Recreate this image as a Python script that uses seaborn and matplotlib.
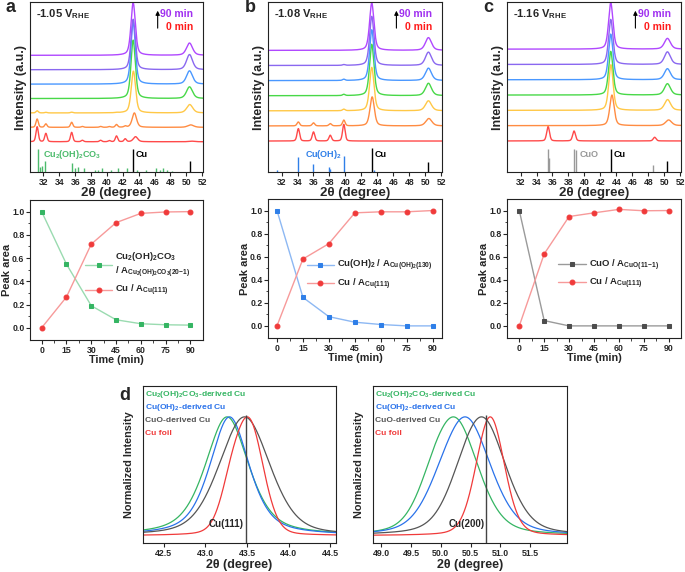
import numpy as np
import pandas as pd
import matplotlib
matplotlib.use("Agg")
import matplotlib.pyplot as plt
import seaborn as sns

###############################################################################
# style
###############################################################################
sns.set_theme(style="ticks")
plt.rcParams['font.family'] = ['Liberation Sans', 'DejaVu Sans']
plt.rcParams['font.weight'] = 'bold'
plt.rcParams['axes.labelweight'] = 'bold'
plt.rcParams['mathtext.fontset'] = 'custom'
plt.rcParams['mathtext.rm'] = 'Liberation Sans:bold'
plt.rcParams['mathtext.it'] = 'Liberation Sans:bold'
plt.rcParams['mathtext.bf'] = 'Liberation Sans:bold'
plt.rcParams['mathtext.default'] = 'rm'
plt.rcParams['axes.linewidth'] = 0.8
plt.rcParams['axes.edgecolor'] = '#222222'

###############################################################################
# data
###############################################################################
times = [0, 15, 30, 45, 60, 75, 90]
curve_colors = ['#FF4A4A', '#FF8C42', '#FFC847', '#48D848', '#4A98FF', '#8A68F0', '#B048FF']

# panel a  (Cu2(OH)2CO3 precursor, -1.05 V)
a_cu111_pos = [43.6, 43.45, 43.33, 43.3, 43.3, 43.3, 43.3]
a_cu111_h = [0.35, 1.0, 2.9, 4.05, 4.3, 3.5, 3.65]
a_cu200_h = [0.04, 0.17, 0.58, 0.81, 0.92, 1.05, 0.85]
a_phase_pos = [31.2, 32.3, 35.55, 36.9, 39.2, 40.3, 41.2, 42.3]
a_phase_h = [[1.04, 0.58, 0.65, 0.1, 0.1, 0.08, 0.4, 0.2],
             [0.58, 0.24, 0.35, 0.06, 0.06, 0.05, 0.19, 0.08],
             [0.15, 0.04, 0.05, 0.0, 0.0, 0.0, 0.02, 0.0],
             [0.0] * 8, [0.0] * 8, [0.0] * 8, [0.0] * 8]
a_ref_pos = [31.32, 31.57, 31.83, 32.2, 35.56, 35.98, 36.32, 37.07, 38.46, 38.92, 39.42,
             40.47, 41.39, 42.49, 43.83, 44.88, 46.14, 46.68, 47.02, 47.6, 48.15]
a_ref_top = [-0.51, -1.74, -1.69, -1.34, -1.46, -1.85, -1.74, -1.85, -1.97, -1.97, -1.85,
             -1.97, -1.85, -1.85, -1.97, -1.97, -1.85, -1.97, -1.85, -1.97, -2.0]
a_cu_ref_top = [-0.5, -1.34]

# panel b  (Cu(OH)2 precursor, -1.08 V)
b_cu111_pos = [43.3, 43.35, 43.3, 43.3, 43.3, 43.3, 43.3]
b_cu111_h = [0.0, 1.92, 2.87, 3.4, 3.36, 3.25, 3.13]
b_cu200_h = [0.0, 0.49, 0.66, 0.82, 0.82, 0.88, 0.84]
b_phase_pos = [34.1, 36.0, 38.1, 39.8]
b_phase_h = [[0.82, 0.6, 0.38, 1.1],
             [0.26, 0.2, 0.15, 0.38],
             [0.0, 0.0, 0.0, 0.1],
             [0.0, 0.0, 0.0, 0.08],
             [0.0, 0.0, 0.0, 0.08],
             [0.0, 0.0, 0.0, 0.05],
             [0.0, 0.0, 0.0, 0.0]]
b_ref_pos = [31.47, 34.05, 36.0, 38.0, 38.13, 39.88, 43.55]
b_ref_top = [-1.94, -1.06, -1.5, -1.72, -1.83, -1.01, -1.94]
b_cu_ref_top = [-0.46, -1.39]

# panel c  (CuO precursor, -1.16 V)
c_cu111_pos = [43.3, 43.45, 43.32, 43.3, 43.3, 43.3, 43.3]
c_cu111_h = [0.0, 2.0, 2.98, 2.85, 2.98, 2.94, 3.03]
c_cu200_h = [0.0, 0.37, 0.7, 0.74, 0.72, 0.82, 0.7]
c_phase_pos = [35.45, 38.7, 48.8]
c_phase_h = [[0.94, 0.65, 0.24]] + [[0.0, 0.0, 0.0]] * 6
c_ref_pos = [35.45, 35.58, 38.65, 38.9, 48.65]
c_ref_top = [-0.54, -1.13, -0.54, -0.6, -1.57]
c_cu_ref_top = [-0.54, -1.31]

cu_ref_pos = [43.3, 50.4]

# peak area vs time
time_min = [0, 15, 30, 45, 60, 75, 90]
a_precursor = [1.0, 0.548, 0.19, 0.069, 0.035, 0.026, 0.023]
a_cu = [0.0, 0.265, 0.72, 0.905, 0.985, 0.997, 1.0]
b_precursor = [1.0, 0.247, 0.08, 0.032, 0.012, 0.0, 0.0]
b_cu = [0.0, 0.58, 0.713, 0.98, 0.989, 0.989, 1.0]
c_precursor = [1.0, 0.046, 0.0, 0.0, 0.0, 0.0, 0.0]
c_cu = [0.0, 0.624, 0.948, 0.98, 1.01, 0.998, 1.0]

# panel d: normalized Cu(111) / Cu(200) profiles
d_labels = ['Cu$_2$(OH)$_2$CO$_3$-derived Cu', 'Cu(OH)$_2$-derived Cu', 'CuO-derived Cu', 'Cu foil']
d_colors = ['#35B563', '#2A72EA', '#555555', '#F03A3A']
d111_pos = [43.26, 43.29, 43.47, 43.53]
d111_fwhm = [0.62, 0.56, 0.72, 0.4]
d111_eta = [0.55, 0.55, 0.35, 0.15]
d111_sh_pos = [43.0, 43.0, 43.2, 43.3]
d111_sh_h = [0.0, 0.0, 0.0, 0.3]
d200_pos = [50.27, 50.43, 50.72, 50.83]
d200_fwhm = [0.9, 0.98, 0.92, 0.56]
d200_eta = [0.35, 0.35, 0.35, 0.2]
d200_sh_pos = [49.9, 50.0, 50.4, 50.6]
d200_sh_h = [0.25, 0.1, 0.15, 0.0]
cu111_line = 43.49
cu200_line = 50.76


def pv(x, c, h, w, eta=0.5):
    g = np.exp(-4 * np.log(2) * ((x - c) / w) ** 2)
    l = 1.0 / (1 + 4 * ((x - c) / w) ** 2)
    return h * (eta * l + (1 - eta) * g)


x2t = np.linspace(30.0, 52.5, 1500)


def xrd_frame(cu111_pos, cu111_h, cu200_h, phase_pos, phase_h, phase_w):
    rows = []
    for i, t in enumerate(times):
        y = pv(x2t, cu111_pos[i], cu111_h[i], 0.65, 0.45)
        y = y + pv(x2t, cu111_pos[i] + 7.1, cu200_h[i], 0.9, 0.45)
        for p, h in zip(phase_pos, phase_h[i]):
            y = y + pv(x2t, p, h, phase_w, 0.3)
        rows.append(pd.DataFrame({'x': x2t, 'y': y + i, 't': t}))
    return pd.concat(rows)


###############################################################################
# figure
###############################################################################
fig = plt.figure(figsize=(6.85, 5.72), dpi=100)
W, H = 685.0, 572.0


def box(l, t, r, b):
    return fig.add_axes([l / W, 1 - b / H, (r - l) / W, (b - t) / H])


ax_top = [box(30, 2, 203, 172), box(268, 2, 442, 172), box(507, 2, 681, 172)]
ax_mid = [box(30, 200, 203, 340), box(268, 199, 442, 338), box(507, 199, 681, 338)]
ax_d = [box(143, 386, 336, 543), box(373, 386, 567, 543)]

top_sets = [
    (a_cu111_pos, a_cu111_h, a_cu200_h, a_phase_pos, a_phase_h, 0.35, a_ref_pos, a_ref_top, a_cu_ref_top,
     '#4CBB6C', 'Cu$_2$(OH)$_2$CO$_3$', 31.9, '-1.05', (-2.1, 9.7)),
    (b_cu111_pos, b_cu111_h, b_cu200_h, b_phase_pos, b_phase_h, 0.38, b_ref_pos, b_ref_top, b_cu_ref_top,
     '#2F7FE8', 'Cu(OH)$_2$', 34.9, '-1.08', (-2.05, 9.2)),
    (c_cu111_pos, c_cu111_h, c_cu200_h, c_phase_pos, c_phase_h, 0.42, c_ref_pos, c_ref_top, c_cu_ref_top,
     '#999999', 'CuO', 39.4, '-1.16', (-2.03, 9.08)),
]

for ax, s in zip(ax_top, top_sets):
    (p111, h111, h200, ppos, ph, pw, rpos, rtop, cutop, rcol, rlab, rlx, volt, ylim) = s
    df = xrd_frame(p111, h111, h200, ppos, ph, pw)
    sns.lineplot(data=df, x='x', y='y', hue='t', palette=curve_colors, hue_order=times,
                 estimator=None, sort=False, lw=1.0, legend=False, ax=ax)
    ax.vlines(rpos, ylim[0], rtop, color=rcol, lw=1.0)
    ax.vlines(cu_ref_pos, ylim[0], cutop, color='black', lw=1.0)
    ax.text(rlx, -0.9, rlab, color=rcol, fontsize=6.5, va='center')
    ax.text(43.65, -0.9, 'Cu', color='black', fontsize=6.5, va='center')
    ax.set_xlim(30.3, 52.1)
    ax.set_ylim(*ylim)
    ax.set_xticks(range(32, 53, 2))
    ax.set_yticks([])
    ax.tick_params(axis='x', labelsize=6.2, length=3, width=0.8, pad=1.2, direction='out')
    ax.set_xlabel('2θ (degree)', fontsize=9.5)
    ax.set_ylabel('Intensity (a.u.)', fontsize=9)
    ax.xaxis.set_label_coords(0.5, -0.088)
    ax.yaxis.set_label_coords(-0.02, 0.5)
    ax.text(0.035, 0.93, volt + ' V$_{RHE}$', transform=ax.transAxes, fontsize=8, va='center')
    ax.annotate('', xy=(0.738, 0.965), xytext=(0.738, 0.83), xycoords='axes fraction',
                arrowprops=dict(arrowstyle='-|>', color='black', lw=0.8, mutation_scale=6))
    ax.text(0.945, 0.93, '90 min', transform=ax.transAxes, color='#A030F0', fontsize=7.5,
            ha='right', va='center')
    ax.text(0.945, 0.855, '0 min', transform=ax.transAxes, color='#FF1A1A', fontsize=7.5,
            ha='right', va='center')

mid_sets = [
    (a_precursor, '#35B563', '#9ADBB0', 'Cu$_2$(OH)$_2$CO$_3$\n/ A$_{Cu_2(OH)_2CO_3(20{-}1)}$', (-7.05, 97.6),
     (0.295, 0.67)),
    (b_precursor, '#2F7FE8', '#8DB8F3', 'Cu(OH)$_2$ / A$_{Cu(OH)_2(130)}$', (-5.2, 95.4), (0.2, 0.6)),
    (c_precursor, '#4D4D4D', '#9A9A9A', 'CuO / A$_{CuO(11{-}1)}$', (-7.4, 97.4), (0.274, 0.605)),
]
mid_cu = [a_cu, b_cu, c_cu]

for ax, s, cu in zip(ax_mid, mid_sets, mid_cu):
    prec, dark, light, lab, xlim, anchor = s
    sns.lineplot(x=time_min, y=prec, ax=ax, color=light, lw=1.0, marker='s', markersize=3.5,
                 markerfacecolor=dark, markeredgecolor=dark, label=lab)
    sns.lineplot(x=time_min, y=cu, ax=ax, color='#F79A9A', lw=1.0, marker='o', markersize=3.5,
                 markerfacecolor='#F03A3A', markeredgecolor='#F03A3A', label='Cu / A$_{Cu(111)}$')
    ax.set_xlim(*xlim)
    ax.set_ylim(-0.105, 1.1)
    ax.set_xticks(time_min)
    ax.set_xticks([7.5, 22.5, 37.5, 52.5, 67.5, 82.5], minor=True)
    ax.set_yticks([0.0, 0.2, 0.4, 0.6, 0.8, 1.0])
    ax.set_yticks([0.1, 0.3, 0.5, 0.7, 0.9], minor=True)
    ax.yaxis.set_major_formatter(matplotlib.ticker.FormatStrFormatter('%.1f'))
    ax.tick_params(which='major', labelsize=6.3, length=3, width=0.8, pad=1.0)
    ax.tick_params(which='minor', length=1.8, width=0.6)
    ax.set_xlabel('Time (min)', fontsize=7.8)
    ax.set_ylabel('Peak area', fontsize=8)
    ax.xaxis.set_label_coords(0.5, -0.108)
    ax.yaxis.set_label_coords(-0.105, 0.5)
    ax.legend(loc='upper left', bbox_to_anchor=anchor, frameon=False, fontsize=6.8,
              handlelength=2.9, handletextpad=0.3, labelspacing=0.35, borderaxespad=0)

d_sets = [
    (d111_pos, d111_fwhm, d111_eta, d111_sh_pos, d111_sh_h, cu111_line, 'Cu(111)',
     (42.25, 44.57), [42.5, 43.0, 43.5, 44.0, 44.5]),
    (d200_pos, d200_fwhm, d200_eta, d200_sh_pos, d200_sh_h, cu200_line, 'Cu(200)',
     (48.86, 52.12), [49.0, 49.5, 50.0, 50.5, 51.0, 51.5]),
]

for ax, s in zip(ax_d, d_sets):
    pos, fw, eta, shp, shh, line_x, line_lab, xlim, ticks = s
    xs = np.linspace(xlim[0], xlim[1], 600)
    rows = []
    for k in range(4):
        y = pv(xs, pos[k], 1.0, fw[k], eta[k]) + pv(xs, shp[k], shh[k], fw[k] * 0.8, 0.3)
        y = y / y.max()
        rows.append(pd.DataFrame({'x': xs, 'y': y, 'lab': d_labels[k]}))
    df = pd.concat(rows)
    sns.lineplot(data=df, x='x', y='y', hue='lab', hue_order=d_labels, palette=d_colors,
                 estimator=None, sort=False, lw=0.9, legend=False, ax=ax)
    ax.vlines([line_x], -0.062, 1.02, color='#444444', lw=1.0)
    ax.text(line_x - 0.03, 0.1, line_lab, fontsize=7, ha='right', va='center')
    for k in range(4):
        ax.text(0.012, 0.945 - k * 0.082, d_labels[k], transform=ax.transAxes, color=d_colors[k],
                fontsize=6.1, va='center')
    ax.set_xlim(*xlim)
    ax.set_ylim(-0.062, 1.26)
    ax.set_xticks(ticks)
    ax.set_yticks([])
    ax.xaxis.set_major_formatter(matplotlib.ticker.FormatStrFormatter('%.1f'))
    ax.tick_params(axis='x', labelsize=6.3, length=3, width=0.8, pad=1.2)
    ax.set_xlabel('2θ (degree)', fontsize=9)
    ax.set_ylabel('Normalized Intensity', fontsize=7.8)
    ax.xaxis.set_label_coords(0.5, -0.105)
    ax.yaxis.set_label_coords(-0.045, 0.5)

for lab, px, py in [('a', 11, 8), ('b', 250, 8), ('c', 488, 8), ('d', 125, 395)]:
    fig.text(px / W, 1 - py / H, lab, fontsize=13, fontweight='bold', va='center', ha='center')

fig.savefig('out.png', dpi=100)
